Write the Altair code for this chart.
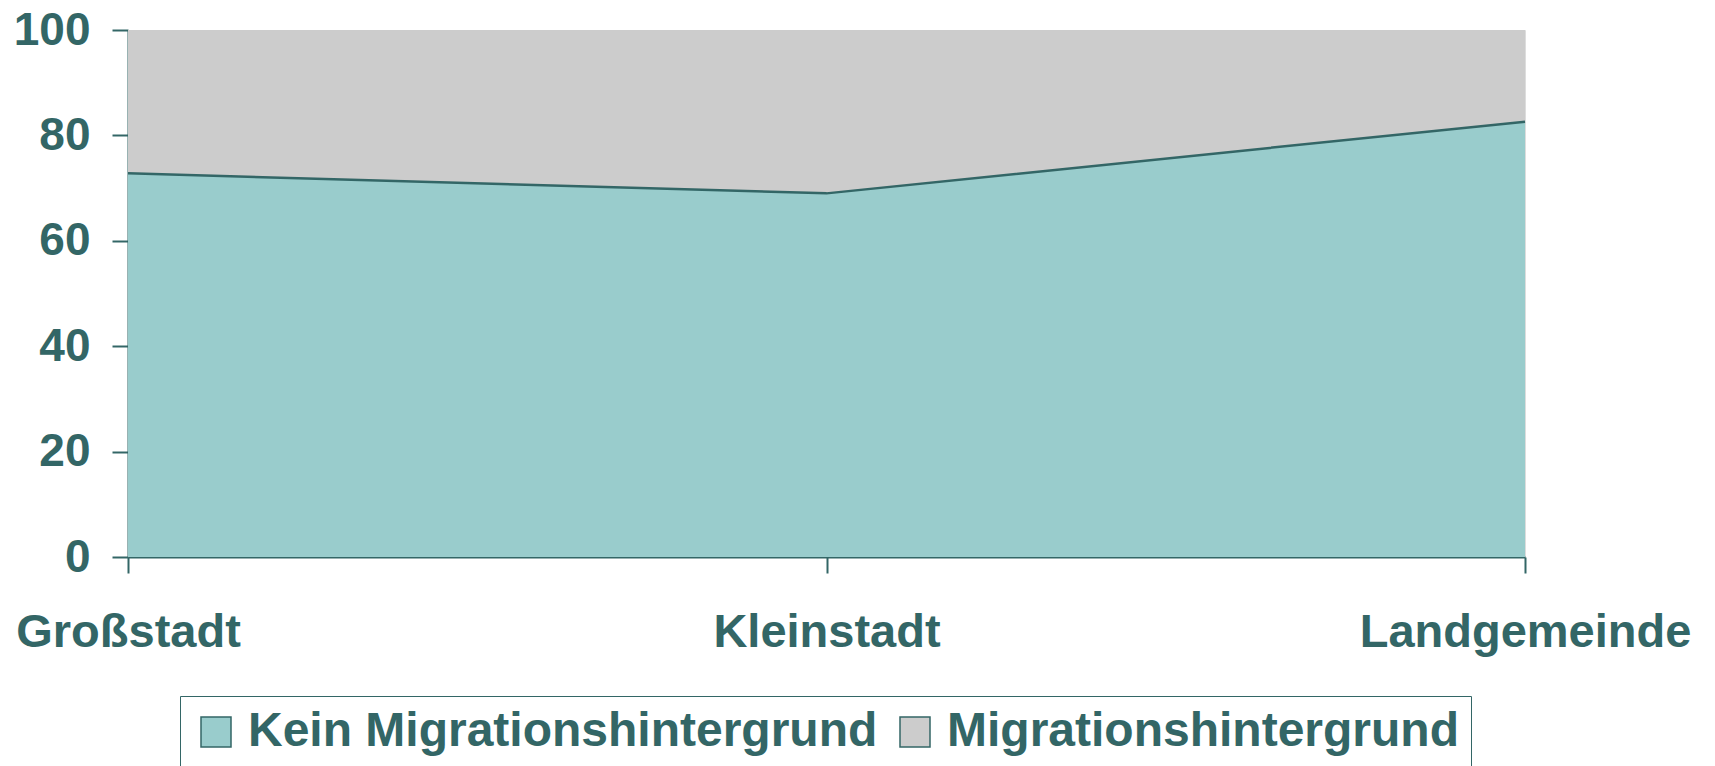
import altair as alt
import pandas as pd

categories = ["Großstadt", "Kleinstadt", "Landgemeinde"]
kein = [72.8, 69.0, 82.6]
mit = [27.2, 31.0, 17.4]
series_names = ["Kein Migrationshintergrund", "Migrationshintergrund"]
colors = ["#99CCCC", "#CCCCCC"]
y_ticks = [0, 20, 40, 60, 80, 100]

rows = []
for i, c in enumerate(categories):
    rows.append({"Ort": c, "Gruppe": series_names[0], "Wert": kein[i], "ord": 0})
    rows.append({"Ort": c, "Gruppe": series_names[1], "Wert": mit[i], "ord": 1})
df = pd.DataFrame(rows)
line_df = pd.DataFrame({"Ort": categories, "Wert": kein})

DARK = "#336666"
FONT = "Liberation Sans"

xenc = alt.X("Ort:N", sort=categories,
             scale=alt.Scale(type="point", padding=0),
             axis=alt.Axis(title=None, labelAngle=0, labelFontSize=47, labelFontWeight="bold",
                           labelColor=DARK, labelFont=FONT, tickSize=16, tickWidth=2,
                           tickColor=DARK, domainColor=DARK, domainWidth=2, labelLimit=0,
                           labelPadding=36, grid=False, labelBaseline="top"))

area = alt.Chart(df).mark_area(opacity=1).encode(
    x=xenc,
    y=alt.Y("Wert:Q", stack="zero", scale=alt.Scale(domain=[0, 100], nice=False),
            axis=alt.Axis(title=None, values=y_ticks, labelFontSize=46, labelFontWeight="bold",
                          labelColor=DARK, labelFont=FONT, tickSize=16, tickWidth=2,
                          tickColor=DARK, domainColor=DARK, domainWidth=2,
                          labelPadding=22, grid=False)),
    color=alt.Color("Gruppe:N", sort=series_names,
                    scale=alt.Scale(domain=series_names, range=colors),
                    legend=alt.Legend(title=None, orient="none", direction="horizontal",
                                      legendX=52, legendY=666,
                                      labelFontSize=48, labelFontWeight="bold", labelColor=DARK,
                                      labelFont=FONT, symbolType="square", symbolSize=900,
                                      symbolStrokeColor=DARK, symbolStrokeWidth=1.5,
                                      symbolOpacity=1, labelOffset=8, columnPadding=13,
                                      strokeColor=DARK, padding=12, labelLimit=1000)),
    order=alt.Order("ord:Q"),
)

line = alt.Chart(line_df).mark_line(color=DARK, strokeWidth=2.5).encode(
    x=alt.X("Ort:N", sort=categories, scale=alt.Scale(type="point", padding=0)),
    y=alt.Y("Wert:Q"),
)

chart = alt.layer(area, line).properties(
    width=1397, height=527,
    autosize=alt.AutoSizeParams(type="none"),
    padding={"left": 120, "top": 22, "right": 174, "bottom": 209},
).configure_view(stroke=DARK, strokeWidth=2).configure(background="white")

chart.save("out.html", embed_options={"renderer": "svg", "actions": False})
